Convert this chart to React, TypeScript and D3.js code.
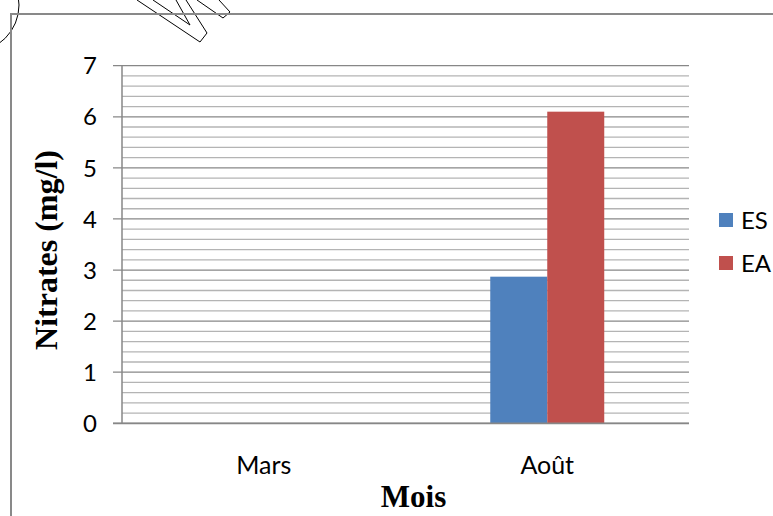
import React from "react";
import * as d3 from "d3";

// Nitrate concentrations (mg/l) by month for each sampling type
const months = ["Mars", "Août"];
const seriesNames = ["ES", "EA"];
const esValues = [0, 2.87];
const eaValues = [0, 6.1];
const yTicks = [0, 1, 2, 3, 4, 5, 6, 7];
const yMinorStep = 0.2;

const colors: Record<string, string> = { ES: "#4f81bd", EA: "#c0504d" };

const W = 773;
const H = 516;
const plot = { left: 122, right: 689, top: 65.7, bottom: 423.3 };

const sansFont = "Lato, 'Open Sans', sans-serif";
const serifFont = "'Liberation Serif', 'Times New Roman', serif";

export default function App() {
  const y = d3.scaleLinear().domain([0, 7]).range([plot.bottom, plot.top]);
  const x0 = d3.scaleBand<string>().domain(months).range([plot.left, plot.right]).paddingInner(0).paddingOuter(0);
  const x1 = d3
    .scaleBand<string>()
    .domain(seriesNames)
    .range([0, x0.bandwidth()])
    .paddingInner(0)
    .paddingOuter(1.487);

  const valuesBySeries: Record<string, number[]> = { ES: esValues, EA: eaValues };

  const minorTicks = d3.range(0, 7 + 1e-9, yMinorStep).filter((v) => Math.abs(v - Math.round(v)) > 1e-6);

  return (
    <svg
      width={W}
      height={H}
      style={{ position: "absolute", left: 0, top: 0, background: "#fff" }}
    >
      <rect x={0} y={0} width={W} height={H} fill="#fff" />

      {/* stamp outline across the top edge */}
      <g fill="none" stroke="#000" strokeWidth={1}>
        <circle cx={-28} cy={5} r={47} />
        <path d="M137,0 L200,42 L207,33 L186,0" />
        <path d="M153,0 L190,25 L176,0" />
        <path d="M197,0 L223,18 L230,12 L219,0" />
      </g>

      {/* outer frame */}
      <path d={`M11,516 L11,14 L773,14`} fill="none" stroke="#898989" strokeWidth={2} />

      {/* minor gridlines */}
      {minorTicks.map((v) => (
        <line
          key={`m${v}`}
          x1={plot.left}
          x2={plot.right}
          y1={y(v)}
          y2={y(v)}
          stroke="#b4b4b4"
          strokeWidth={1.3}
        />
      ))}
      {/* major gridlines with ticks */}
      {yTicks.map((v) => (
        <line
          key={`M${v}`}
          x1={plot.left - 9}
          x2={plot.right}
          y1={y(v)}
          y2={y(v)}
          stroke="#878787"
          strokeWidth={1.3}
        />
      ))}

      {/* bars */}
      {months.map((m, i) => (
        <g key={m} transform={`translate(${x0(m)},0)`}>
          {seriesNames.map((s) => {
            const v = valuesBySeries[s][i];
            if (v <= 0) return null;
            return (
              <rect
                key={s}
                x={x1(s)}
                y={y(v)}
                width={x1.bandwidth()}
                height={y(0) - y(v)}
                fill={colors[s]}
              />
            );
          })}
        </g>
      ))}

      {/* axes lines */}
      <line x1={plot.left} x2={plot.left} y1={plot.top} y2={plot.bottom} stroke="#878787" strokeWidth={1.5} />
      <line x1={plot.left - 9} x2={plot.right} y1={y(0)} y2={y(0)} stroke="#878787" strokeWidth={1.8} />

      {/* y tick labels */}
      {yTicks.map((v) => (
        <text
          key={`t${v}`}
          x={97}
          y={y(v)}
          dy="0.36em"
          textAnchor="end"
          fontFamily={sansFont}
          fontSize={24}
          fill="#000"
        >
          {v}
        </text>
      ))}

      {/* category labels */}
      {months.map((m) => (
        <text
          key={`c${m}`}
          x={(x0(m) ?? 0) + x0.bandwidth() / 2}
          y={474}
          textAnchor="middle"
          fontFamily={sansFont}
          fontSize={25}
          fill="#000"
        >
          {m}
        </text>
      ))}

      {/* axis titles */}
      <text
        x={413.5}
        y={507}
        textAnchor="middle"
        fontFamily={serifFont}
        fontWeight="bold"
        fontSize={31}
        fill="#000"
      >
        Mois
      </text>
      <text
        transform={`translate(57,250) rotate(-90)`}
        textAnchor="middle"
        fontFamily={serifFont}
        fontWeight="bold"
        fontSize={32}
        fill="#000"
      >
        Nitrates (mg/l)
      </text>

      {/* legend */}
      {seriesNames.map((s, i) => (
        <g key={`l${s}`} transform={`translate(719,${213 + i * 43})`}>
          <rect x={0} y={0} width={14} height={14} fill={colors[s]} />
          <text x={22} y={15.5} fontFamily={sansFont} fontSize={24} fill="#000">
            {s}
          </text>
        </g>
      ))}
    </svg>
  );
}
